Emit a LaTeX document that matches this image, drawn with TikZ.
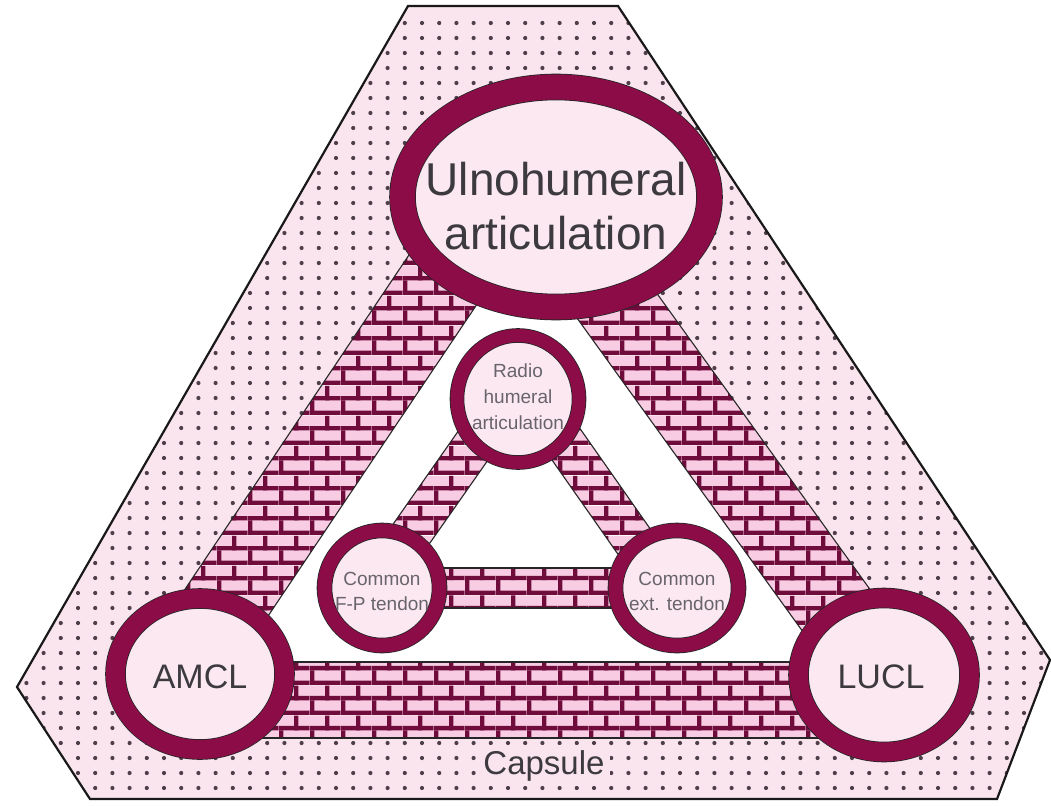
\documentclass[tikz,border=0pt]{standalone}
\usepackage{fontspec}
\setmainfont{Liberation Sans}
\usetikzlibrary{shapes.geometric,patterns.meta}
\definecolor{maroon}{RGB}{140,12,72}
\definecolor{mortar}{RGB}{112,12,60}
\definecolor{brickpink}{RGB}{248,204,226}
\definecolor{ringfill}{RGB}{251,232,241}
\definecolor{capsfill}{RGB}{250,229,239}
\definecolor{dotcol}{RGB}{78,62,74}
\definecolor{bigtext}{RGB}{60,58,62}
\definecolor{smalltext}{RGB}{105,100,108}

\tikzdeclarepattern{
  name=brickwall,
  type=colored,
  bottom left={(0pt,0pt)},
  top right={(31pt,30pt)},
  tile size={(31pt,30pt)},
  code={
    \fill[brickpink] (0pt,0pt) rectangle (31pt,30pt);
    \fill[mortar] (0pt,0pt) rectangle (31pt,4.5pt);
    \fill[mortar] (0pt,15pt) rectangle (31pt,19.5pt);
    \fill[mortar] (0pt,0pt) rectangle (4.5pt,15pt);
    \fill[mortar] (15.5pt,15pt) rectangle (20pt,30pt);
  }
}

\tikzset{
  ring/.style={ellipse, draw=black!85, line width=0.8pt, double=maroon, fill=ringfill, inner sep=0pt},
  brickband/.style={pattern=brickwall, draw=black!85, line width=1.1pt},
  bigtxt/.style={text=bigtext, inner sep=0pt, align=center},
  smalltxt/.style={text=smalltext, inner sep=0pt, align=center, font=\fontsize{19}{25}\selectfont},
}

\begin{document}
\begin{tikzpicture}[x=1pt,y=-1pt]
\useasboundingbox (0,0) rectangle (1051,805);

% capsule
\fill[capsfill] (408,6) -- (618,6) -- (1050,660) -- (997,799) -- (90,799) -- (17,687) -- cycle;
\begin{scope}
\clip (408,6) -- (618,6) -- (1050,660) -- (997,799) -- (90,799) -- (17,687) -- cycle;
\foreach \i in {0,...,61} \foreach \j in {0,...,52}
  \fill[dotcol] ({9.2+17.2*\i},{23+15*\j}) circle (2.1);
\end{scope}

% inner white region
\fill[white] (520.4,239.4) -- (237.3,662) -- (824.6,662) -- cycle;

% big brick bands
\path[brickband] (412.3,250) -- (513.3,250) -- (245.3,650) -- (144.3,650) -- cycle;
\path[brickband] (528,250) -- (625.6,250) -- (913.6,650) -- (816,650) -- cycle;
\path[brickband] (250,662) rectangle (840,738);

% small brick bands
\path[brickband] (466,420) -- (516,420) -- (411,570) -- (361,570) -- cycle;
\path[brickband] (524,420) -- (574,420) -- (679,570) -- (629,570) -- cycle;
\path[brickband] (420,568) rectangle (640,608);

% circles
\node[ring, double distance=25pt, minimum width=307pt, minimum height=220pt] (ulno) at (556,197) {};
\node[ring, double distance=19pt, minimum width=169pt, minimum height=151pt] (amcl) at (200,674) {};
\node[ring, double distance=19pt, minimum width=171pt, minimum height=154pt] (lucl) at (884,675) {};
\node[ring, double distance=13pt, minimum width=122pt, minimum height=127pt] (radio) at (518,399) {};
\node[ring, double distance=14pt, minimum width=115pt, minimum height=115pt] (fp) at (382,588) {};
\node[ring, double distance=14pt, minimum width=123pt, minimum height=115pt] (ext) at (677,588) {};

% capsule outline
\draw[black!90, line width=2.2pt, line join=miter] (408,6) -- (618,6) -- (1050,660) -- (997,799) -- (90,799) -- (17,687) -- cycle;

% texts
\node[bigtxt, font=\fontsize{46}{54}\selectfont] (ulnotxt) at (556,206) {Ulnohumeral\\articulation};
\node[bigtxt, font=\fontsize{34}{40}\selectfont, anchor=base] (amcltxt) at (200,688) {AMCL};
\node[bigtxt, font=\fontsize{34}{40}\selectfont, anchor=base] (lucltxt) at (881,688) {LUCL};
\node[bigtxt, font=\fontsize{33}{38}\selectfont, anchor=base, fill=capsfill, inner sep=5pt] (capstxt) at (544,774) {Capsule};
\node[smalltxt, font=\fontsize{19}{26}\selectfont] (radiotxt) at (518,397) {Radio\\humeral\\articulation};
\node[smalltxt] (fptxt) at (382,591) {Common\\F-P tendon};
\node[smalltxt] (exttxt) at (677,591) {Common\\ext. tendon};
\end{tikzpicture}
\end{document}
